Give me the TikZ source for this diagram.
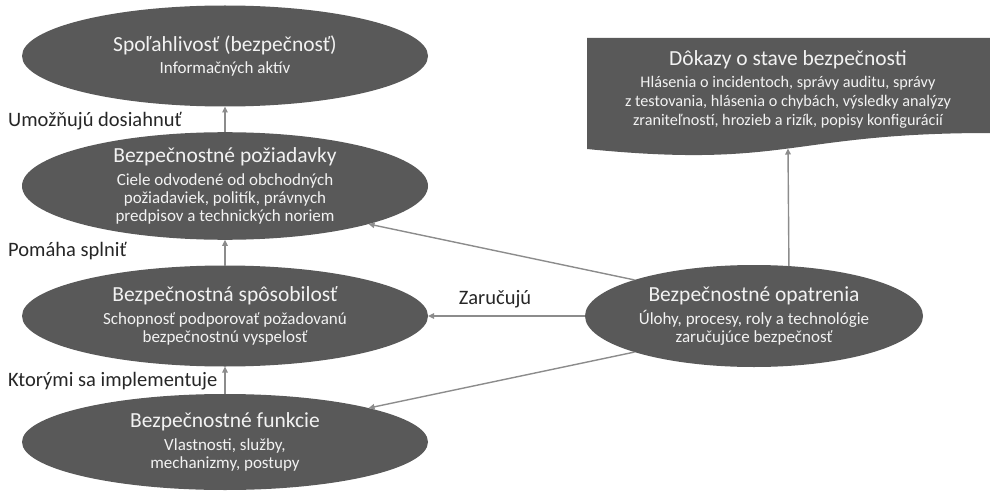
\documentclass[tikz,border=0pt]{standalone}
\usepackage{fontspec}
\setmainfont{Carlito}
\usetikzlibrary{shapes.geometric,arrows.meta,calc}
\definecolor{boxgray}{HTML}{595959}
\definecolor{linkgray}{HTML}{8C8C8C}
\definecolor{textdark}{HTML}{262626}
\definecolor{textlight}{HTML}{F2F2F2}
\newcommand\headsz{\fontsize{21.5}{24}\selectfont}
\newcommand\notesz{\fontsize{20.5}{24}\selectfont}
\newcommand\bodysz{\fontsize{17}{17.8}\selectfont}
\newcommand\evsz{\fontsize{16.2}{19}\selectfont}

\begin{document}
\begin{tikzpicture}[x=1pt,y=-1pt,
  blob/.style={ellipse, fill=boxgray, draw=none, inner sep=0pt, outer sep=0pt,
    minimum width=406pt, minimum height=101pt, text=textlight, align=center, font=\bodysz},
  link/.style={draw=linkgray, line width=1.4pt, -{Triangle[length=6pt,width=5.5pt]}},
  note/.style={text=textdark, font=\notesz, inner sep=0pt, anchor=west}]
\useasboundingbox (0,0) rectangle (990,492);

% left column of ellipses
\node[blob] (rel) at (225,56) {{\headsz Spoľahlivosť (bezpečnosť)}\\[5pt]Informačných aktív};
\node[blob] (req) at (225,186) {{\headsz Bezpečnostné požiadavky}\\[5pt]Ciele odvodené od obchodných\\požiadaviek, politík, právnych\\predpisov a technických noriem};
\node[blob] (cap) at (225,316) {{\headsz Bezpečnostná spôsobilosť}\\[5pt]Schopnosť podporovať požadovanú\\bezpečnostnú vyspelosť};
\node[blob, minimum height=96pt] (fun) at (225,442) {{\headsz Bezpečnostné funkcie}\\[5pt]Vlastnosti, služby,\\mechanizmy, postupy};

% controls ellipse on the right
\node[blob, minimum width=338pt, minimum height=102pt] (ctl) at (754,316) {{\headsz Bezpečnostné opatrenia}\\[5pt]Úlohy, procesy, roly a technológie\\zaručujúce bezpečnosť};

% evidence document shape with wavy bottom
\fill[boxgray] (587,38) -- (990,38) -- (990,133) .. controls (788,133) and (788,169) .. (587,149) -- cycle;
\node[text=textlight, align=center, font=\evsz, inner sep=0pt] (ev) at (788,89)
  {{\headsz Dôkazy o stave bezpečnosti}\\[3pt]Hlásenia o incidentoch, správy auditu, správy\\z testovania, hlásenia o chybách, výsledky analýzy\\zraniteľností, hrozieb a rizík, popisy konfigurácií};
\coordinate (evbot) at (788,148.5);

% connectors
\draw[link] (req.north) -- (rel.south);
\draw[link] (cap.north) -- (req.south);
\draw[link] (fun.north) -- (cap.south);
\draw[link] (ctl.north west) -- (req.south east);
\draw[link] (ctl.west) -- (cap.east);
\draw[link] (ctl.south west) -- (fun.north east);
\draw[link] (ctl.55.8) -- (evbot);

% connector labels
\node[note] (l1) at (8,121) {Umožňujú dosiahnuť};
\node[note] (l2) at (8,251) {Pomáha splniť};
\node[note] (l3) at (8,381) {Ktorými sa implementuje};
\node[note, anchor=center] (l4) at (495,299) {Zaručujú};
\end{tikzpicture}
\end{document}
